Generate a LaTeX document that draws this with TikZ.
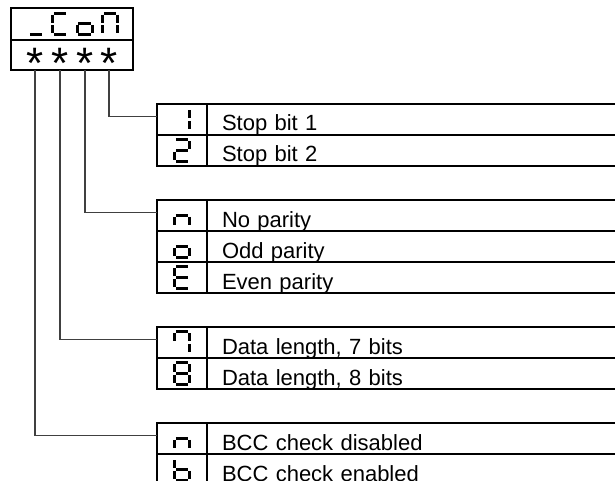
\documentclass[tikz,border=0pt]{standalone}
\usepackage{fontspec}
\setmainfont{Liberation Sans}
\usetikzlibrary{positioning}

% segments of a seven segment digit, around its centre
\newcommand{\sga}{(-6.2,-10.8) -- (6.2,-10.8)}
\newcommand{\sgb}{(7.5,-9.4) -- (7.5,-1.3)}
\newcommand{\sgc}{(7.5,1.3) -- (7.5,9.4)}
\newcommand{\sgd}{(-6.2,10.8) -- (6.2,10.8)}
\newcommand{\sge}{(-7.5,1.3) -- (-7.5,9.4)}
\newcommand{\sgf}{(-7.5,-9.4) -- (-7.5,-1.3)}
\newcommand{\sgg}{(-6.2,0) -- (6.2,0)}

\newcommand{\sevenseg}[2]{%
  \begin{scope}[shift={(#1)}]
    \foreach \s in {#2} {\draw[segline] \csname sg\s\endcsname;}
  \end{scope}}

% one line of a table: name, centre y, segments, text
\newcommand{\optrow}[4]{%
  \node[codecell] (#1) at (182,#2) {};
  \node[textcell] (#1t) at (#1.east) {#4};
  \sevenseg{#1}{#3}}

\tikzset{
  segline/.style={line width=3pt},
  codecell/.style={draw, line width=2pt, outer sep=0pt, inner sep=0pt,
    minimum width=50, minimum height=31},
  textcell/.style={draw, line width=2pt, outer sep=0pt, anchor=west,
    inner ysep=0pt, inner xsep=15pt, text width=420pt, align=left,
    text height=27pt, text depth=4pt, font=\fontsize{22}{26}\selectfont},
  starsym/.style={anchor=base, inner sep=0pt, font=\fontsize{44}{44}\selectfont},
  wire/.style={draw=black!75, line width=1.2pt},
}

\begin{document}
\begin{tikzpicture}[x=1pt, y=-1pt]
\path[use as bounding box, clip] (0,0) rectangle (615,481);

% display box
\node[draw, line width=2pt, outer sep=0pt, inner sep=0pt,
  minimum width=122, minimum height=62] (disp) at (72,39) {};
\draw[line width=1.8pt] (11,40) -- (133,40);
\sevenseg{36,24}{d}
\sevenseg{60,24}{a,d,e,f}
\sevenseg{84.5,24}{c,d,e,g}
\sevenseg{110,24}{a,b,c,e,f}

\node[starsym] (st1) at (35,79) {*};
\node[starsym] (st2) at (60,79) {*};
\node[starsym] (st3) at (85,79) {*};
\node[starsym] (st4) at (109,79) {*};

% stop bits
\optrow{r11}{119.5}{b,c}{Stop bit 1}
\optrow{r12}{150.5}{a,b,g,e,d}{Stop bit 2}

% parity
\optrow{r21}{215.5}{c,e,g}{No parity}
\optrow{r22}{246.5}{c,d,e,g}{Odd parity}
\optrow{r23}{277.5}{a,d,e,f,g}{Even parity}

% data length
\optrow{r31}{342.5}{a,b,c,f}{Data length, 7 bits}
\optrow{r32}{373.5}{a,b,c,d,e,f,g}{Data length, 8 bits}

% bcc
\optrow{r41}{438.5}{c,e,g}{BCC check disabled}
\optrow{r42}{469.5}{c,d,e,f,g}{BCC check enabled}

% connectors
\draw[wire] (st4 |- disp.south) |- ([yshift=3pt]r11.west);
\draw[wire] (st3 |- disp.south) |- ([yshift=3pt]r21.west);
\draw[wire] (st2 |- disp.south) |- ([yshift=3pt]r31.west);
\draw[wire] (st1 |- disp.south) |- ([yshift=3pt]r41.west);

\end{tikzpicture}
\end{document}
